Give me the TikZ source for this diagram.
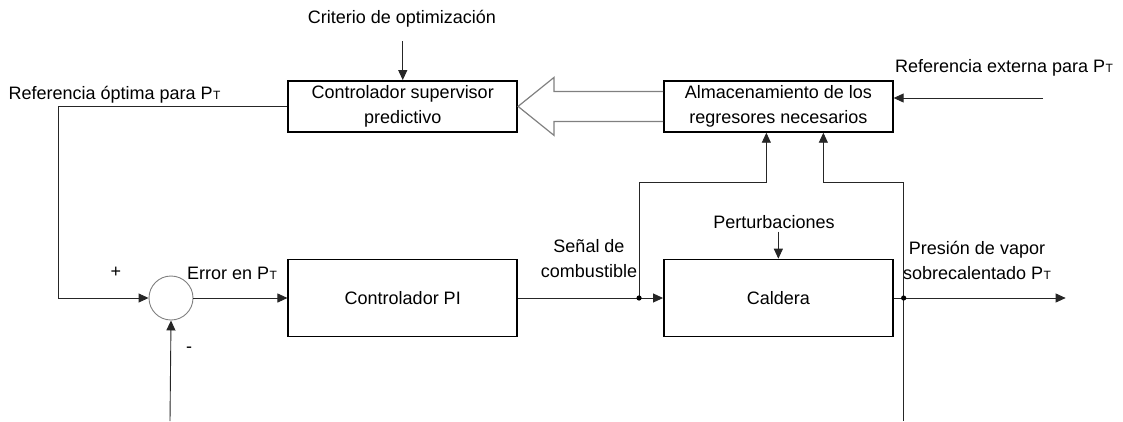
\documentclass[tikz,border=0pt]{standalone}
\usepackage{fontspec}
\setmainfont{Liberation Sans}
\usetikzlibrary{arrows.meta, positioning, calc}
\tikzset{
  block/.style={
    rectangle,
    draw=black,
    line width=1.6pt,
    align=center,
    text centered,
    minimum width=229pt
  },
  arrow/.style={
    line width=0.9pt,
    draw=black!85,
    -{Triangle[length=10pt,width=9pt]}
  },
  wire/.style={
    line width=0.9pt,
    draw=black!85
  },
  hollow/.style={
    line width=1.2pt,
    draw=gray
  }
}
\newcommand{\PT}{P\kern0.4pt{\fontsize{12}{12}\selectfont T}}

\begin{document}
\begin{tikzpicture}[x=1pt, y=-1pt, node distance=94pt and 145pt, >=Stealth,
  every node/.style={font=\fontsize{18}{25}\selectfont}]
\useasboundingbox (0,0) rectangle (1123,421);

% --- lower row ---
\node (sum) [circle, draw=gray, line width=0.9pt, minimum size=44pt] at (171,298) {};
\node (pi) [block, minimum height=77pt, right=94pt of sum] {Controlador PI};
\node (caldera) [block, minimum height=77pt, right=145pt of pi] {Caldera};

% --- upper row ---
\node (sup) [block, minimum height=51pt, above=126pt of pi] {Controlador supervisor\\predictivo};
\node (alm) [block, minimum height=51pt, right=145pt of sup] {Almacenamiento de los\\regresores necesarios};

% --- labels ---
\node (crit) at (402,19) {Criterio de optimización};
\node (refopt) [anchor=west] at (5,95) {Referencia óptima para \PT};
\node (refext) at (1004,68) {Referencia externa para \PT};
\node (plus) at (116,272) {+};
\node (minus) at (189,350) {-};
\node (err) at (232,273) {Error en \PT};
\node (senal) [align=center] at (589,259) {Señal de\\combustible};
\node (pert) at (774,222) {Perturbaciones};
\node (pres) [align=center] at (977,260) {Presión de vapor\\sobrecalentado \PT};

% --- points ---
\coordinate (critin) at ([yshift=39pt]sup.north);
\coordinate (pertin) at ([yshift=27pt]caldera.north);
\coordinate (extin) at (1043,98);
\coordinate (corner) at (58,298);
\coordinate (j1) at ([xshift=-24pt]caldera.west);
\coordinate (j2) at ([xshift=10pt]caldera.east);
\coordinate (out) at ([xshift=172pt]caldera.east);
\coordinate (fbin) at (170,421);
\coordinate (fbout) at (j2 |- fbin);
\coordinate (hb) at ($(sup.east)+(36,0)$);

% --- arrows ---
\draw[arrow] (critin) -- (sup.north);
\draw[arrow] (extin) -- (extin -| alm.east);
\draw[arrow] (sup.west) -| (corner) -- (sum.west);
\draw[arrow] (fbin) -- (sum.south);
\draw[arrow] (sum.east) -- (pi.west);
\draw[arrow] (pi.east) -- (caldera.west);
\draw[arrow] (pertin) -- (caldera.north);
\draw[arrow] (caldera.east) -- (out);
\draw[arrow] (j1) |- ($(alm.south)+(-12,50)$) -- ([xshift=-12pt]alm.south);
\draw[arrow] (j2) |- ($(alm.south)+(45,50)$) -- ([xshift=45pt]alm.south);
\draw[wire] (j2) -- (fbout);
\fill[black] (j1) circle (2.6pt) (j2) circle (2.6pt);

% --- hollow arrow ---
\draw[hollow] ([yshift=15pt]alm.west) -- ($(hb)+(0,-15)$) -- ($(hb)+(0,-29)$) -- (sup.east)
  -- ($(hb)+(0,29)$) -- ($(hb)+(0,15)$) -- ([yshift=-15pt]alm.west);

\end{tikzpicture}
\end{document}
